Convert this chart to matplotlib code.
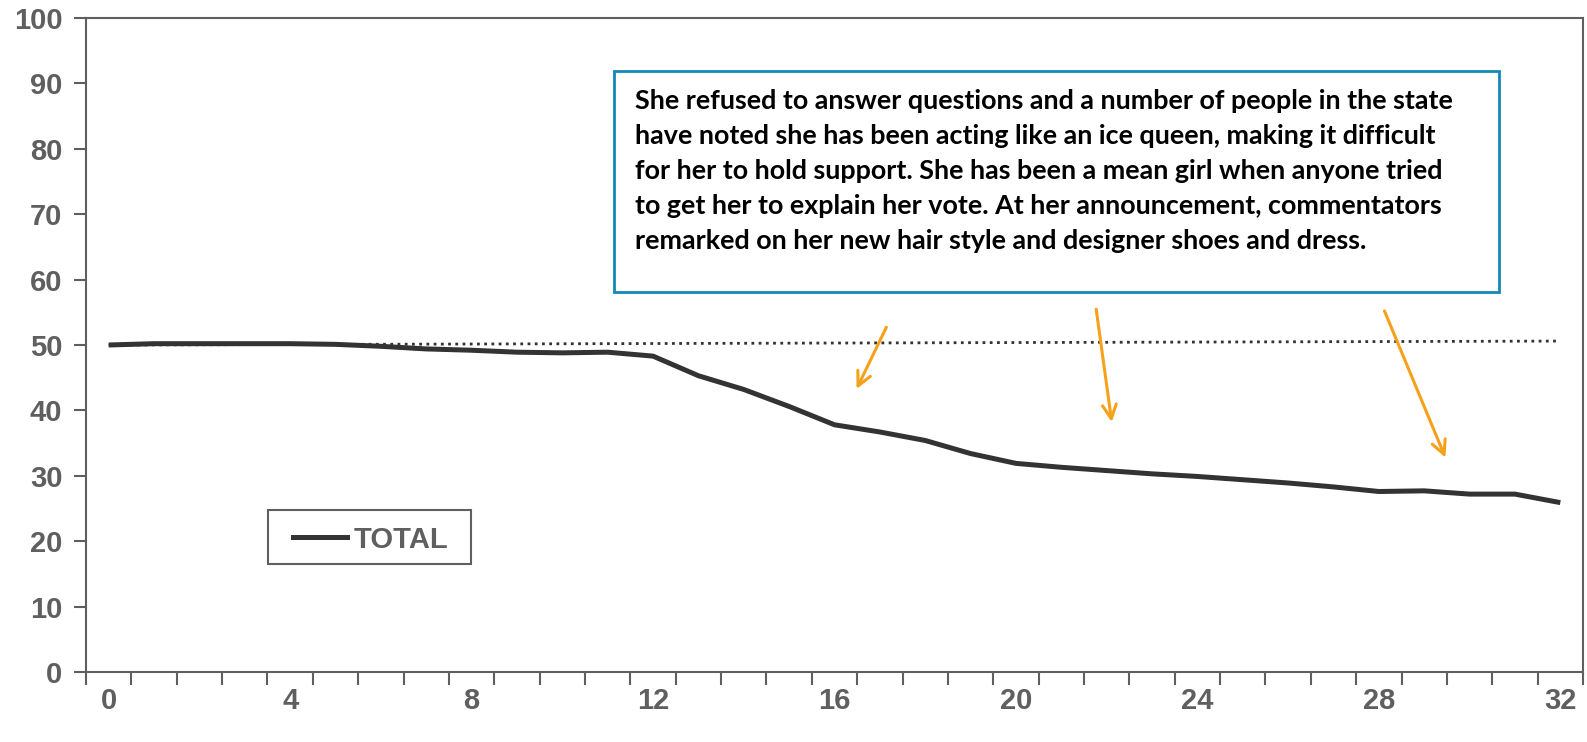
import numpy as np
import matplotlib
matplotlib.use("Agg")
import matplotlib.pyplot as plt
from matplotlib.patches import Rectangle
from matplotlib.lines import Line2D

# category positions (0..32), labels every 4
CATEGORIES = list(range(33))
TICK_LABELS = ["0", "4", "8", "12", "16", "20", "24", "28", "32"]

TOTAL = [50.0, 50.2, 50.2, 50.2, 50.2, 50.1, 49.8, 49.4, 49.2, 48.9,
         48.8, 48.9, 48.3, 45.3, 43.2, 40.6, 37.8, 36.7, 35.4, 33.4,
         31.9, 31.3, 30.8, 30.3, 29.9, 29.4, 28.9, 28.3, 27.6, 27.7,
         27.2, 27.2, 25.9]

# dotted reference line, start and end values
REF_X = [0, 32]
REF_Y = [50.0, 50.6]

NOTE = ("She refused to answer questions and a number of people in the state\n"
        "have noted she has been acting like an ice queen, making it difficult\n"
        "for her to hold support. She has been a mean girl when anyone tried\n"
        "to get her to explain her vote. At her announcement, commentators\n"
        "remarked on her new hair style and designer shoes and dress.")

# arrows: (tail x, tail y, head x, head y) in data units
ARROWS = [(17.17, 53.1, 16.46, 42.9),
          (21.76, 55.9, 22.12, 37.8),
          (28.10, 55.6, 29.49, 32.4)]

GRAY = "#5f5f5f"
LINE = "#333333"
ORANGE = "#f7a01a"
BLUE = "#1289b8"

W, H = 1587, 742

plt.rcParams["font.family"] = ["Liberation Sans", "DejaVu Sans"]

fig = plt.figure(figsize=(W / 100, H / 100), dpi=100)
ax = fig.add_axes([86 / W, 1 - 672 / H, (1583 - 86) / W, (672 - 18) / H])

ax.plot(REF_X, REF_Y, color=LINE, lw=2.0, linestyle=(0, (1, 1.6)))
ax.plot(CATEGORIES, TOTAL, color=LINE, lw=3.6,
        solid_joinstyle="round", solid_capstyle="butt")

ax.set_xlim(-0.5, 32.5)
ax.set_ylim(0, 100)

ax.set_xticks(np.arange(-0.5, 33, 1))
ax.set_xticklabels([])
ax.set_xticks(np.arange(0, 33, 4), minor=True)
ax.set_xticklabels(TICK_LABELS, minor=True)
ax.tick_params(axis="x", which="major", length=9, width=1.5, color=GRAY, direction="out")
ax.tick_params(axis="x", which="minor", length=0, pad=11)

ax.set_yticks(np.arange(0, 101, 10))
ax.tick_params(axis="y", length=9, width=1.5, color=GRAY, direction="out", pad=8)

for lab in ax.get_xticklabels(minor=True) + ax.get_yticklabels():
    lab.set_fontsize(21)
    lab.set_fontweight("bold")
    lab.set_color(GRAY)

for sp in ax.spines.values():
    sp.set_color(GRAY)
    sp.set_linewidth(1.5)

# legend box, drawn by hand so the padding matches
fig.patches.append(Rectangle((268 / W, 1 - 564 / H), 203 / W, 54 / H,
                             transform=fig.transFigure, fill=False,
                             edgecolor=GRAY, lw=1.5))
fig.lines.append(Line2D([293 / W, 347 / W], [1 - 537 / H, 1 - 537 / H],
                        transform=fig.transFigure, color=LINE, lw=3.6))
fig.text(354 / W, 1 - 537 / H, "TOTAL", ha="left", va="center_baseline",
         fontsize=21, fontweight="bold", color=GRAY)

for x0, y0, x1, y1 in ARROWS:
    ax.annotate("", xy=(x1, y1), xytext=(x0, y0),
                arrowprops=dict(arrowstyle="->,head_length=1.0,head_width=0.5",
                                color=ORANGE, lw=2.2))

fig.patches.append(Rectangle((614 / W, 1 - 292 / H), 885 / W, 221 / H,
                             transform=fig.transFigure, fill=False,
                             edgecolor=BLUE, lw=2))
fig.text(635 / W, 1 - 89 / H, NOTE, ha="left", va="top", fontsize=19.4,
         fontweight="bold", family=["Lato", "DejaVu Sans"], linespacing=1.55,
         color="black")

fig.savefig("out.png", dpi=100)
